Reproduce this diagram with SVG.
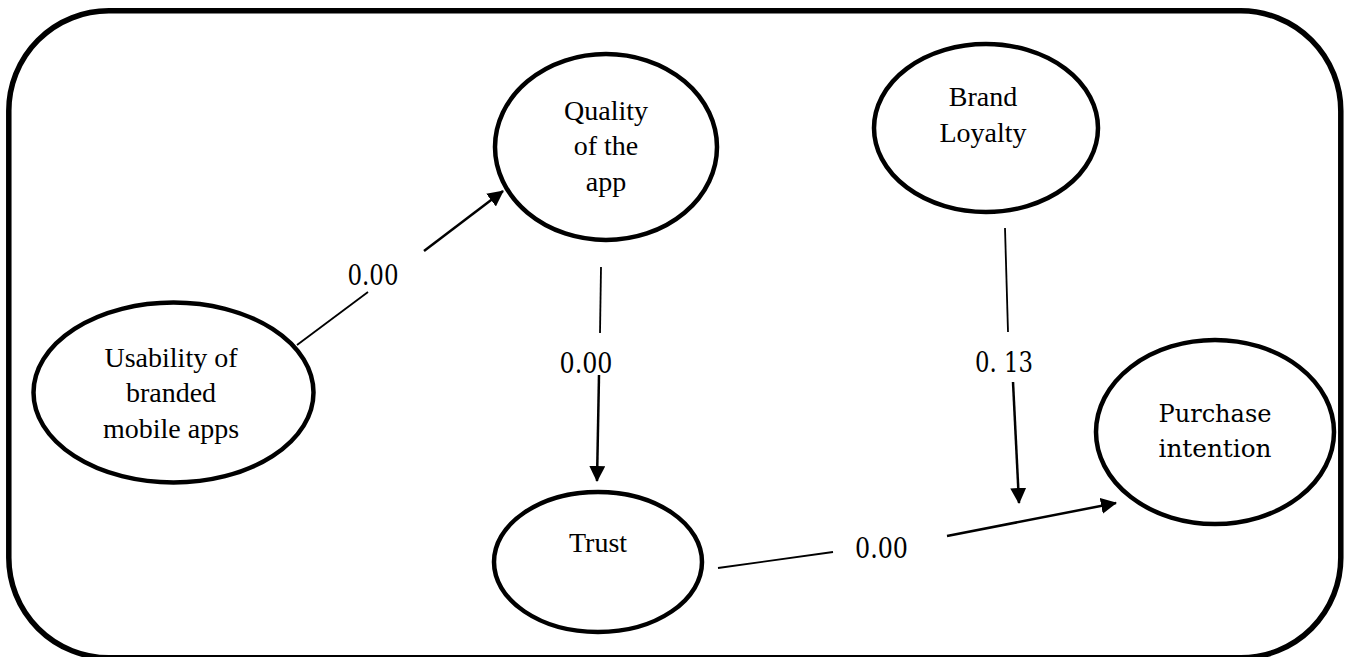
<svg xmlns="http://www.w3.org/2000/svg" width="1351" height="657" viewBox="0 0 1351 657">
  <style>
    .frame { fill: none; stroke: #000; stroke-width: 5.5; }
    .node ellipse { fill: #fff; stroke: #000; stroke-width: 4.5; }
    .t { font-family: "Liberation Serif", "Times New Roman", serif; font-size: 28px; fill: #000; text-anchor: middle; }
    .c { font-family: "DejaVu Serif", Cambria, serif; font-size: 25px; fill: #000; text-anchor: middle; }
    .lbl { font-family: "DejaVu Serif", Cambria, serif; font-size: 27px; fill: #000; text-anchor: middle; }
    .seg { stroke: #000; stroke-width: 1.8; fill: none; }
    .arr { stroke: #000; stroke-width: 2.5; fill: none; marker-end: url(#ah); }
  </style>
  <defs>
    <marker id="ah" markerUnits="userSpaceOnUse" markerWidth="16" markerHeight="16" viewBox="0 0 16 16" refX="15" refY="8" orient="auto">
      <path d="M0,0 L16,8 L0,16 Z" fill="#000"/>
    </marker>
  </defs>
  <rect width="1351" height="657" fill="#fff"/>
  <rect class="frame" x="8.8" y="10.8" width="1332" height="647" rx="100" ry="100"/>

  <g id="connectors">
    <line class="seg" x1="297" y1="345" x2="368" y2="292"/>
    <line class="arr" x1="424" y1="251" x2="503" y2="191"/>
    <text class="lbl" x="373" y="285" textLength="51" lengthAdjust="spacingAndGlyphs">0.00</text>

    <line class="seg" x1="601" y1="267" x2="600" y2="333"/>
    <line class="arr" x1="599" y1="375" x2="597" y2="481"/>
    <text class="lbl" x="586" y="373" textLength="53" lengthAdjust="spacingAndGlyphs">0.00</text>

    <line class="seg" x1="1005" y1="228" x2="1008" y2="332"/>
    <line class="arr" x1="1013" y1="382" x2="1019" y2="503"/>
    <text class="lbl" x="1004" y="372" textLength="58" lengthAdjust="spacingAndGlyphs">0. 13</text>

    <line class="seg" x1="718" y1="568" x2="833" y2="552"/>
    <line class="arr" x1="947" y1="536" x2="1116" y2="503"/>
    <text class="lbl" x="881.5" y="558" textLength="53" lengthAdjust="spacingAndGlyphs">0.00</text>
  </g>

  <g id="usability" class="node">
    <ellipse cx="173.5" cy="392.5" rx="140" ry="90"/>
    <text class="t" x="171" y="367">Usability of</text>
    <text class="t" x="171" y="402">branded</text>
    <text class="t" x="171" y="438">mobile apps</text>
  </g>

  <g id="quality" class="node">
    <ellipse cx="606" cy="147" rx="111" ry="93"/>
    <text class="t" x="606" y="120">Quality</text>
    <text class="t" x="606" y="155">of the</text>
    <text class="t" x="606" y="191">app</text>
  </g>

  <g id="brand" class="node">
    <ellipse cx="986" cy="128" rx="112" ry="84"/>
    <text class="t" x="983" y="106">Brand</text>
    <text class="t" x="983" y="142">Loyalty</text>
  </g>

  <g id="trust" class="node">
    <ellipse cx="598" cy="562" rx="104" ry="70"/>
    <text class="t" x="598" y="552">Trust</text>
  </g>

  <g id="purchase" class="node">
    <ellipse cx="1215" cy="432" rx="119" ry="92"/>
    <text class="c" x="1215" y="422" textLength="113" lengthAdjust="spacingAndGlyphs">Purchase</text>
    <text class="c" x="1215" y="457" textLength="113" lengthAdjust="spacingAndGlyphs">intention</text>
  </g>
</svg>
